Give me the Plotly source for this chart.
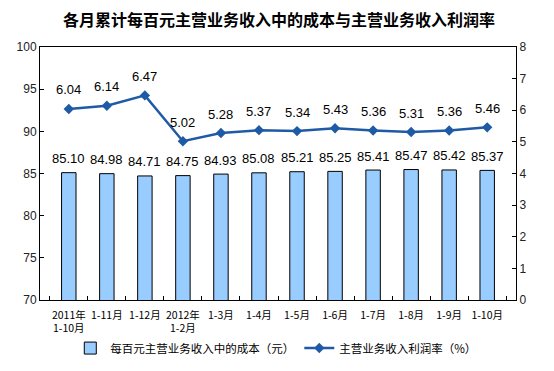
import plotly.graph_objects as go

categories = ["2011年<br>1-10月", "1-11月", "1-12月", "2012年<br>1-2月", "1-3月", "1-4月",
              "1-5月", "1-6月", "1-7月", "1-8月", "1-9月", "1-10月"]
cost_values = [85.10, 84.98, 84.71, 84.75, 84.93, 85.08, 85.21, 85.25, 85.41, 85.47, 85.42, 85.37]
profit_rate = [6.04, 6.14, 6.47, 5.02, 5.28, 5.37, 5.34, 5.43, 5.36, 5.31, 5.36, 5.46]
left_ticks = [70, 75, 80, 85, 90, 95, 100]
right_ticks = [0, 1, 2, 3, 4, 5, 6, 7, 8]

FONT = "Liberation Sans, Arial, Noto Sans CJK SC, sans-serif"
CJK = "Noto Sans CJK SC, sans-serif"
LINE_COLOR = "#1F5AA6"

fig = go.Figure()
fig.add_trace(go.Bar(
    x=categories, y=cost_values, name="每百元主营业务收入中的成本（元）",
    marker=dict(color="#99CCFF", line=dict(color="#000000", width=1)),
    width=0.38,
))
fig.add_trace(go.Scatter(
    x=categories, y=profit_rate, yaxis="y2", name="主营业务收入利润率（%）",
    mode="lines+markers",
    line=dict(color=LINE_COLOR, width=2.5),
    marker=dict(symbol="diamond", size=8, color=LINE_COLOR),
))

annotations = [
    dict(x=c, y=v, xref="x", yref="y", text=f"{v:.2f}", showarrow=False,
         yshift=14, font=dict(size=13, color="#000000", family=FONT))
    for c, v in zip(categories, cost_values)
] + [
    dict(x=c, y=v, xref="x", yref="y2", text=f"{v:.2f}", showarrow=False,
         yshift=19, font=dict(size=13, color="#000000", family=FONT))
    for c, v in zip(categories, profit_rate)
]

fig.update_layout(
    width=554, height=371,
    margin=dict(l=40, r=38, t=47, b=71, autoexpand=False),
    paper_bgcolor="white", plot_bgcolor="white",
    title=dict(text="<b>各月累计每百元主营业务收入中的成本与主营业务收入利润率</b>",
               x=279 / 554, xanchor="center", y=1 - 20 / 371, yanchor="middle",
               font=dict(size=16, color="#000000", family=CJK)),
    font=dict(family=FONT, color="#000000"),
    showlegend=True,
    legend=dict(orientation="h", x=275 / 554, xanchor="center", y=-0.19, yanchor="middle",
                font=dict(size=11.5, family=CJK), itemwidth=30, tracegroupgap=0,
                traceorder="normal"),
    xaxis=dict(type="category", showline=True, linecolor="#000000", linewidth=1, mirror=True,
               ticks="inside", ticklen=4, tickcolor="#000000", tickson="boundaries",
               tickangle=0, tickfont=dict(size=10.5, family=CJK), showgrid=False,
               automargin=False, ticklabelstandoff=5),
    yaxis=dict(range=[70, 100], tickvals=left_ticks, showline=True, linecolor="#000000",
               linewidth=1, ticks="inside", ticklen=4, tickcolor="#000000", showgrid=False,
               tickfont=dict(size=12, color="#222222"), zeroline=False, automargin=False),
    yaxis2=dict(range=[0, 8], tickvals=right_ticks, overlaying="y", side="right",
                showline=True, linecolor="#000000", linewidth=1, ticks="inside", ticklen=4,
                tickcolor="#000000", showgrid=False, tickfont=dict(size=12, color="#222222"),
                zeroline=False, automargin=False),
    annotations=annotations,
)

fig.write_html("out.html", config={"displayModeBar": False},
               post_script="document.body.style.margin='0';document.body.style.overflow='hidden';")
